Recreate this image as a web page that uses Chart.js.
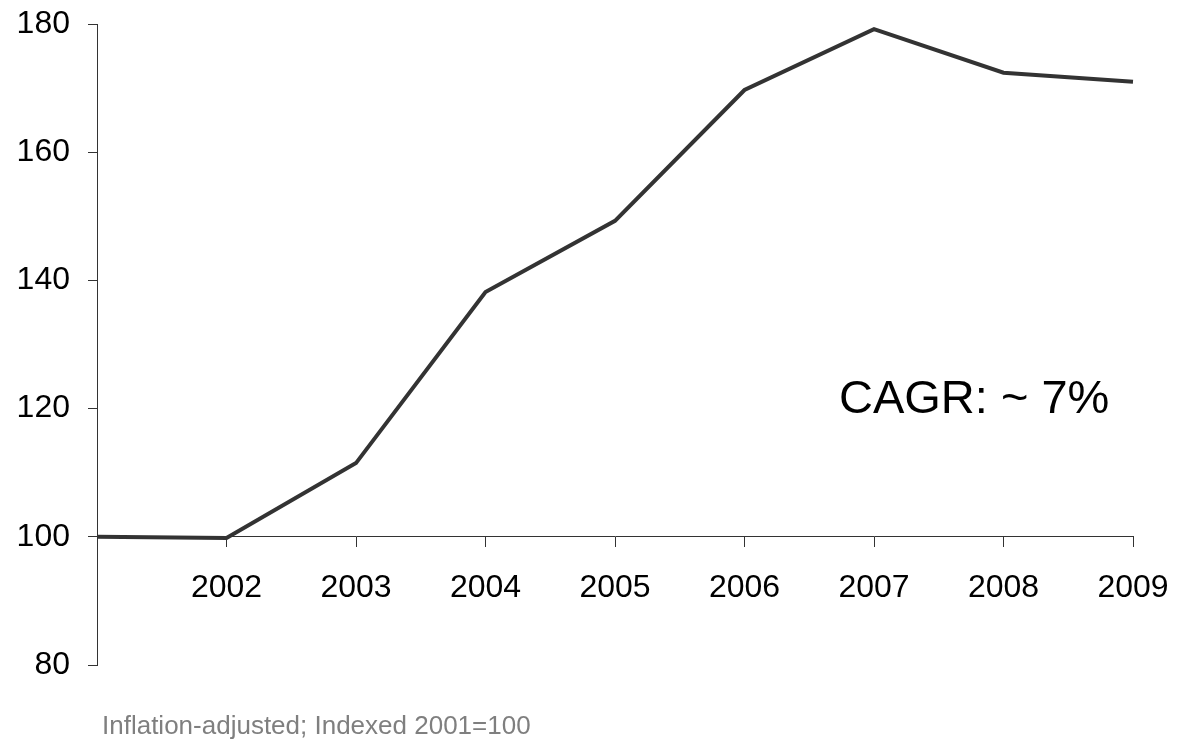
<!DOCTYPE html>
<html>
<head>
<meta charset="utf-8">
<title>Indexed growth 2001-2009</title>
<script src="https://cdn.jsdelivr.net/npm/chart.js@4/dist/chart.umd.min.js"></script>
<style>
  html, body { margin: 0; padding: 0; background: #fff; }
  #wrap { position: relative; width: 1182px; height: 740px; }
</style>
</head>
<body>
<div id="wrap"><canvas id="indexChart"></canvas></div>
<script>
// data (2001 = 100)
const years = ["2001", "2002", "2003", "2004", "2005", "2006", "2007", "2008", "2009"];
const indexValues = [100, 99.8, 111.5, 138.2, 149.3, 169.7, 179.2, 172.4, 171.0];
const yTicks = [80, 100, 120, 140, 160, 180];

const annotationText = "CAGR: ~ 7%";
const footnoteText = "Inflation-adjusted; Indexed 2001=100";

const FONT = "'Liberation Sans', Arial, Helvetica, sans-serif";

// draws the CAGR note and the footnote
const notesPlugin = {
  id: "notes",
  afterDraw(chart) {
    const ctx = chart.ctx;
    ctx.save();
    ctx.textAlign = "left";
    ctx.textBaseline = "alphabetic";

    ctx.fillStyle = "#000";
    ctx.font = "47px " + FONT;
    ctx.fillText(annotationText, 839, 413);

    ctx.fillStyle = "#7f7f7f";
    ctx.font = "26px " + FONT;
    ctx.fillText(footnoteText, 102, 734);
    ctx.restore();
  },
};

// let layout.padding alone decide the plot box
function noScalePadding(scale) {
  scale.paddingTop = 0;
  scale.paddingBottom = 0;
  scale.paddingLeft = 0;
  scale.paddingRight = 0;
}

const ctx = document.getElementById("indexChart").getContext("2d");

new Chart(ctx, {
  type: "line",
  data: {
    labels: years,
    datasets: [
      {
        data: indexValues,
        borderColor: "#333333",
        borderWidth: 4,
        borderJoinStyle: "miter",
        pointRadius: 0,
        tension: 0,
        fill: false,
      },
    ],
  },
  options: {
    responsive: true,
    maintainAspectRatio: false,
    animation: false,
    layout: { padding: { top: 24, right: 49, bottom: 75, left: 0 } },
    plugins: {
      legend: { display: false },
      tooltip: { enabled: false },
    },
    scales: {
      x: {
        type: "category",
        offset: false,
        position: { y: 100 },
        afterFit: noScalePadding,
        grid: {
          drawOnChartArea: false,
          drawTicks: true,
          tickLength: 10,
          color: "#333",
        },
        border: { display: true, color: "#333", width: 1 },
        ticks: {
          autoSkip: false,
          maxRotation: 0,
          padding: 22,
          color: "#000",
          font: { family: FONT, size: 32 },
          callback: (v, i) => (i === 0 ? "" : years[i]),
        },
      },
      y: {
        min: 80,
        max: 180,
        afterFit: (scale) => {
          noScalePadding(scale);
          scale.width = 97;
        },
        afterBuildTicks: (scale) => {
          scale.ticks = yTicks.map((v) => ({ value: v }));
        },
        grid: {
          drawOnChartArea: false,
          drawTicks: true,
          tickLength: 9,
          color: "#333",
        },
        border: { display: true, color: "#333", width: 1 },
        ticks: {
          padding: 18,
          color: "#000",
          font: { family: FONT, size: 32 },
        },
      },
    },
  },
  plugins: [notesPlugin],
});
</script>
</body>
</html>
